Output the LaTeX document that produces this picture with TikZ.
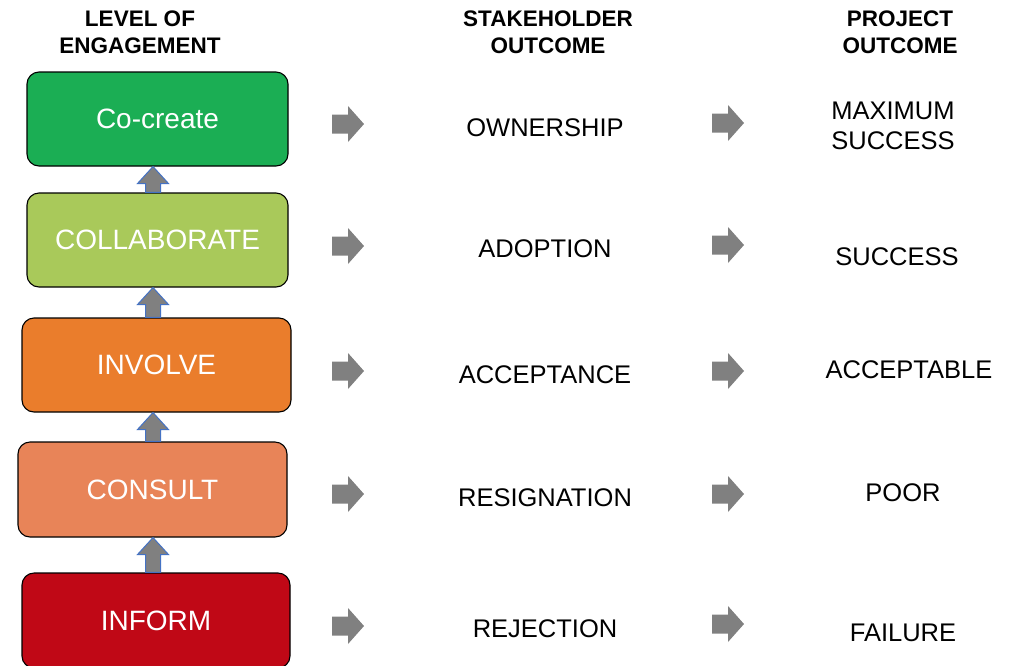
\documentclass[tikz,border=0pt]{standalone}
\usepackage{fontspec}
\setmainfont{Liberation Sans}
\usetikzlibrary{calc}
\definecolor{cgreen}{RGB}{27,174,84}
\definecolor{clime}{RGB}{169,201,90}
\definecolor{corange}{RGB}{234,125,44}
\definecolor{csalmon}{RGB}{232,132,88}
\definecolor{cred}{RGB}{192,8,22}
\definecolor{agray}{RGB}{128,128,128}
\definecolor{ablue}{RGB}{68,114,196}
\tikzset{
  lvlbox/.style={draw=black, line width=1.1pt, rounded corners=12pt, inner sep=0pt, text=white, font=\fontsize{28}{32}\selectfont},
  hdr/.style={align=center, inner sep=0pt, font=\bfseries\fontsize{22.5}{27}\selectfont},
  outtxt/.style={align=center, inner sep=0pt, font=\fontsize{25.5}{30}\selectfont},
  uparr/.style={fill=agray, draw=ablue, line width=1pt, line join=miter},
  rarr/.pic={\fill[agray] (-16,-9.5) -- (0,-9.5) -- (0,-18) -- (16,0) -- (0,18) -- (0,9.5) -- (-16,9.5) -- cycle;}
}
\newcommand\uparrowbetween[2]{%
  \draw[uparr] let \p1=(#1.north -| ax), \p2=(#2.south -| ax) in
    (\x1-7.5pt,\y1) -- (\x1-7.5pt,\y2-17pt) -- (\x1-15.5pt,\y2-17pt) -- (\x1,\y2) --
    (\x1+15.5pt,\y2-17pt) -- (\x1+7.5pt,\y2-17pt) -- (\x1+7.5pt,\y1) -- cycle;}
\begin{document}
\begin{tikzpicture}[x=1pt,y=-1pt]
\clip (0,0) rectangle (1020,665);
\fill[white] (0,0) rectangle (1020,665);
\coordinate (ax) at (153,0);
% headers
\node[hdr] (h1) at (140,32) {LEVEL OF\\ENGAGEMENT};
\node[hdr] (h2) at (548,32) {STAKEHOLDER\\OUTCOME};
\node[hdr] (h3) at (900,32) {PROJECT\\OUTCOME};
% level boxes
\node[lvlbox, fill=cgreen, minimum width=261pt, minimum height=94pt] (cocreate) at (157.5,119) {Co-create};
\node[lvlbox, fill=clime, minimum width=261pt, minimum height=94pt] (coll) at (157.5,240) {COLLABORATE};
\node[lvlbox, fill=corange, minimum width=269pt, minimum height=94pt] (involve) at (156.5,365) {INVOLVE};
\node[lvlbox, fill=csalmon, minimum width=269pt, minimum height=95pt] (consult) at (152.5,489.5) {CONSULT};
\node[lvlbox, fill=cred, minimum width=268pt, minimum height=95pt] (inform) at (156,620.5) {INFORM};
% up arrows
\uparrowbetween{coll}{cocreate}
\uparrowbetween{involve}{coll}
\uparrowbetween{consult}{involve}
\uparrowbetween{inform}{consult}
% stakeholder outcomes
\node[outtxt] (s1) at (545,128) {OWNERSHIP};
\node[outtxt] (s2) at (545,249) {ADOPTION};
\node[outtxt] (s3) at (545,375) {ACCEPTANCE};
\node[outtxt] (s4) at (545,498) {RESIGNATION};
\node[outtxt] (s5) at (545,629) {REJECTION};
% project outcomes
\node[outtxt] (p1) at (893,126) {MAXIMUM\\SUCCESS};
\node[outtxt] (p2) at (897,257) {SUCCESS};
\node[outtxt] (p3) at (909,370) {ACCEPTABLE};
\node[outtxt] (p4) at (903,493) {POOR};
\node[outtxt] (p5) at (903,633) {FAILURE};
% right arrows
\pic at (348,124) {rarr};
\pic at (348,246) {rarr};
\pic at (348,371) {rarr};
\pic at (348,494) {rarr};
\pic at (348,626) {rarr};
\pic at (728,123) {rarr};
\pic at (728,245) {rarr};
\pic at (728,371) {rarr};
\pic at (728,494) {rarr};
\pic at (728,624) {rarr};
\end{tikzpicture}
\end{document}
